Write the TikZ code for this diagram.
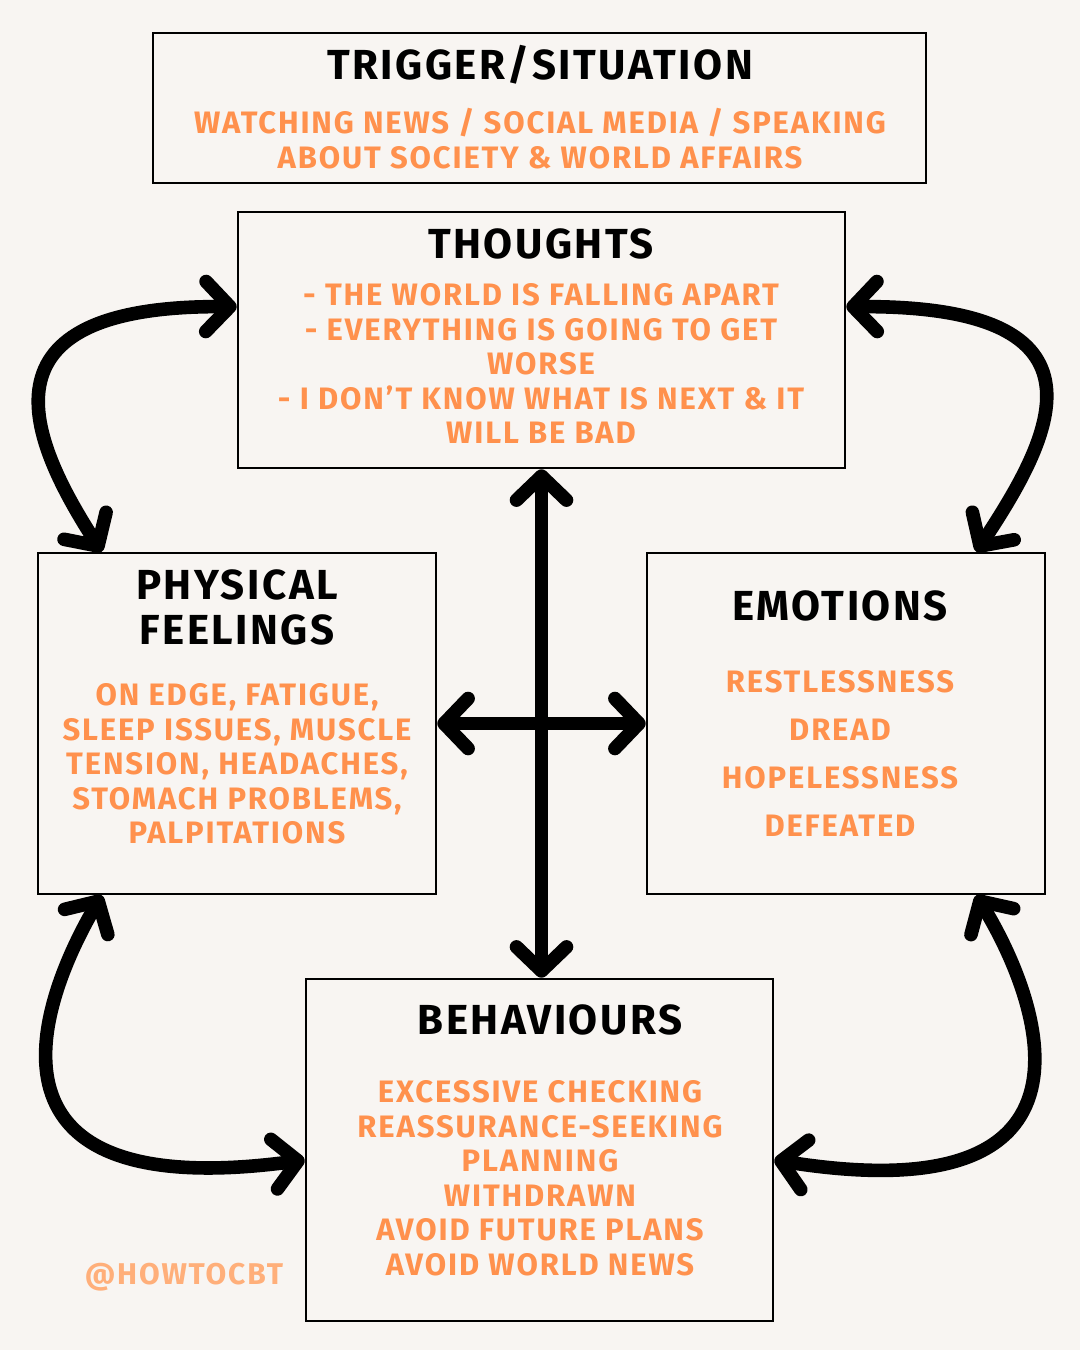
\documentclass[tikz,border=0pt]{standalone}
\usepackage{xcolor}
\usepackage{fontspec}
\setmainfont{Fira Sans}[LetterSpace=6]
\usepackage{tikz}
\usetikzlibrary{positioning,arrows.meta,calc}
\definecolor{fondo}{HTML}{F8F5F2}
\definecolor{naranja}{HTML}{FF914D}
\definecolor{naranjaclaro}{HTML}{FFAF7A}

\begin{document}
\begin{tikzpicture}[x=0.5pt, y=-0.5pt,
  caja/.style={draw=black, line width=1.3pt, inner sep=0pt},
  titulo/.style={font=\fontsize{21}{26}\selectfont\bfseries, align=center},
  texto/.style={font=\fontsize{15.5}{17.25}\selectfont\bfseries, text=naranja,
                align=center},
  flecha/.style={{Straight Barb[round,length=12pt,width=25pt]}-{Straight Barb[round,length=12pt,width=25pt]},
                 line width=6.8pt, line cap=round}]
  \fill[fondo] (0,0) rectangle (1080,1350);
  \useasboundingbox (0,0) rectangle (1080,1350);
  \node[caja, minimum width=386.5pt, minimum height=75pt] (disparador) at (539.5,108) {};
  \node[caja, minimum width=303.5pt, minimum height=128pt] (pensamientos) at (541.5,340) {};
  \node[caja, minimum width=199pt, minimum height=170.5pt] (fisico) at (237,723.5) {};
  \node[caja, minimum width=199pt, minimum height=170.5pt] (emociones) at (846,723.5) {};
  \node[caja, minimum width=233.5pt, minimum height=171pt] (conductas) at (539.5,1150) {};
  \node[titulo] (t1) at (540,65) {TRIGGER/SITUATION};
  \node[texto] (x1) at (540,138.5) {WATCHING NEWS / SOCIAL MEDIA / SPEAKING\\
    ABOUT SOCIETY \& WORLD AFFAIRS};
  \node[titulo] (t2) at (541,244) {THOUGHTS};
  \node[texto] (x2) at (541,363.5) {- THE WORLD IS FALLING APART\\
    - EVERYTHING IS GOING TO GET\\WORSE\\
    - I DON'T KNOW WHAT IS NEXT \& IT\\WILL BE BAD};
  \node[titulo, font=\fontsize{21}{22.5}\selectfont\bfseries] (t3) at (237,607)
       {PHYSICAL\\FEELINGS};
  \node[texto] (x3) at (237,764) {ON EDGE, FATIGUE,\\SLEEP ISSUES, MUSCLE\\
    TENSION, HEADACHES,\\STOMACH PROBLEMS,\\PALPITATIONS};
  \node[titulo] (t4) at (840,606) {EMOTIONS};
  \node[texto, font=\fontsize{15.5}{24}\selectfont\bfseries] (x4) at (840,753.5)
       {RESTLESSNESS\\DREAD\\HOPELESSNESS\\DEFEATED};
  \node[titulo] (t5) at (550,1020) {BEHAVIOURS};
  \node[texto] (x5) at (540,1178) {EXCESSIVE CHECKING\\REASSURANCE-SEEKING\\
    PLANNING\\WITHDRAWN\\AVOID FUTURE PLANS\\AVOID WORLD NEWS};
  \node[texto, text=naranjaclaro, font=\fontsize{15}{17}\selectfont\bfseries] (firma)
       at (184,1277) {@HOWTOCBT};
  \draw[flecha] ([yshift=-48pt]pensamientos.north west) .. controls (-30,305) and (30,440)
       .. ([xshift=32.5pt]fisico.north west);
  \draw[flecha] ([yshift=-48pt]pensamientos.north east) .. controls (1125,305) and (1050,440)
       .. ([xshift=-35pt]emociones.north east);
  \draw[flecha] (pensamientos.south) -- (pensamientos.south |- conductas.north);
  \draw[flecha] (fisico.east) -- (emociones.west);
  \draw[flecha] ([xshift=32.5pt]fisico.south west) .. controls (35,1010) and (-30,1205)
       .. ([yshift=-5pt]conductas.west);
  \draw[flecha] ([xshift=-35pt]emociones.south east) .. controls (1040,1000) and (1120,1215)
       .. ([yshift=-5pt]conductas.east);
\end{tikzpicture}
\end{document}
